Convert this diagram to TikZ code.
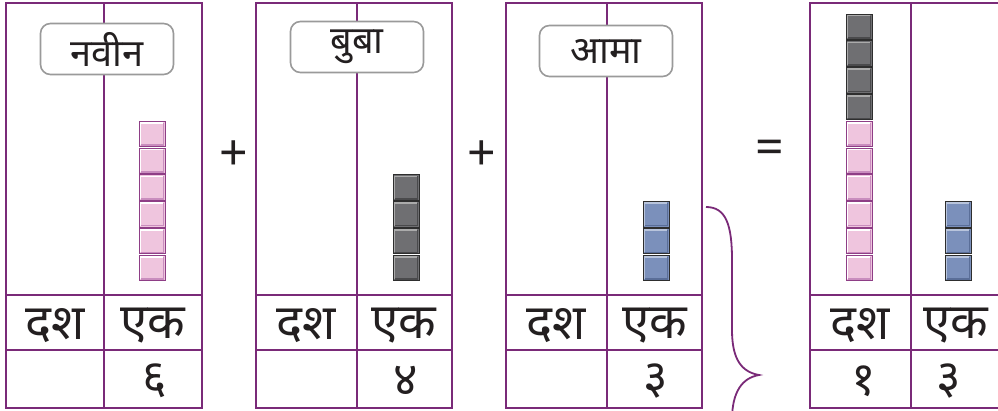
\documentclass[tikz,border=0pt]{standalone}
\usepackage{fontspec}
\setmainfont{Noto Sans}
\newfontfamily\dev{Noto Sans}[Script=Devanagari]
\definecolor{frame}{HTML}{7A2A78}
\definecolor{ink}{HTML}{231F20}
\definecolor{lblbd}{HTML}{9A9A9A}
\definecolor{pinkf}{HTML}{EFC5DE}
\definecolor{pinkd}{HTML}{8E3E86}
\definecolor{pinks}{HTML}{C98DBE}
\definecolor{grayf}{HTML}{6F6F72}
\definecolor{grayd}{HTML}{2E2E2E}
\definecolor{grayh}{HTML}{ABABAB}
\definecolor{grays}{HTML}{4A4A4C}
\definecolor{bluef}{HTML}{7B90BB}
\definecolor{blueh}{HTML}{B8C4DC}
\definecolor{blues}{HTML}{5A6E98}
\tikzset{
  gridline/.style={draw=frame, line width=2pt},
  lbl/.style={draw=lblbd, line width=1.6pt, fill=white, rounded corners=10pt,
    minimum width=133pt, minimum height=51pt, inner sep=0pt, text=ink,
    font=\dev\fontsize{38}{38}\selectfont},
  head/.style={text=ink, inner sep=0pt, font=\dev\fontsize{49}{49}\selectfont},
  digit/.style={text=ink, inner sep=0pt, font=\dev\fontsize{47}{47}\selectfont},
  sign/.style={text=ink, inner sep=0pt, font=\fontsize{50}{50}\selectfont},
  cubebase/.style n args={4}{draw=#2, fill=#1, line width=0.9pt,
    minimum width=26pt, minimum height=25.5pt, inner sep=0pt,
    path picture={
      \draw[#3, line width=1.6pt]
        ([xshift=1.6pt,yshift=1.6pt]path picture bounding box.south west)
        -- ([xshift=1.6pt,yshift=-1.6pt]path picture bounding box.north west)
        -- ([xshift=-1.6pt,yshift=-1.6pt]path picture bounding box.north east);
      \draw[#4, line width=1.6pt]
        ([xshift=1.6pt,yshift=1.6pt]path picture bounding box.south west)
        -- ([xshift=-1.6pt,yshift=1.6pt]path picture bounding box.south east)
        -- ([xshift=-1.6pt,yshift=-1.6pt]path picture bounding box.north east);
    }},
  pinkcube/.style={cubebase={pinkf}{pinkd}{white}{pinks}},
  graycube/.style={cubebase={grayf}{grayd}{grayh}{grays}},
  bluecube/.style={cubebase={bluef}{grayd}{blueh}{blues}},
  bracestyle/.style={draw=frame, line width=1.8pt},
}
\newcommand\placepanel[3]{%
  % #1 name, #2 left x, #3 middle x
  \node[draw=none, minimum width=196pt, minimum height=405pt, inner sep=0pt, anchor=north west]
    (#1) at (#2,3) {};
  \draw[gridline] (#1.north west) rectangle (#1.south east);
  \coordinate (#1m) at (#3,3);
  \draw[gridline] (#1m) -- (#1m |- #1.south);
  \draw[gridline] (#2,295) -- ++(196,0);
  \draw[gridline] (#2,350) -- ++(196,0);
}
\begin{document}
\begin{tikzpicture}[x=1pt,y=-1pt]
\useasboundingbox (0,0) rectangle (998,411);
\clip (0,0) rectangle (998,411);
\fill[white] (0,0) rectangle (998,411);

\placepanel{pa}{6}{104}
\placepanel{pb}{256}{357}
\placepanel{pc}{506}{607}
\placepanel{pd}{810}{911}

% labels
\node[lbl] (la) at (107,49) {नवीन};
\node[lbl] (lb) at (357,47) {बुबा};
\node[lbl] (lc) at (606,51) {आमा};

% headers
\node[head] (dasha) at (55,326) {दश};
\node[head] (eka) at (153,326) {एक};
\node[head] (dashb) at (306,326) {दश};
\node[head] (ekb) at (404,326) {एक};
\node[head] (dashc) at (556,326) {दश};
\node[head] (ekc) at (655,326) {एक};
\node[head] (dashd) at (860,326) {दश};
\node[head] (ekd) at (956,326) {एक};

% digits
\node[digit] (da) at (155,381) {६};
\node[digit] (db) at (406,381) {४};
\node[digit] (dc) at (656,381) {३};
\node[digit] (ddt) at (864,381) {१};
\node[digit] (ddo) at (949,381) {३};

% cubes
\foreach \k in {0,...,5}{ \node[pinkcube] (ca\k) at (152,268-26.8*\k) {}; }
\foreach \k in {0,...,3}{ \node[graycube] (cb\k) at (406,268-26.8*\k) {}; }
\foreach \k in {0,...,2}{ \node[bluecube] (cc\k) at (656,268-26.8*\k) {}; }
\foreach \k in {0,...,5}{ \node[pinkcube] (cdt\k) at (859,268-26.8*\k) {}; }
\foreach \k in {6,...,9}{ \node[graycube] (cdt\k) at (859,268-26.8*\k) {}; }
\foreach \k in {0,...,2}{ \node[bluecube] (cdo\k) at (958,268-26.8*\k) {}; }

% signs
\node[sign] (plus1) at (234,156) {+};
\node[sign] (plus2) at (482,156) {+};
\node[sign] (eq) at (770,152) {=};

% brace
\draw[bracestyle] (706,207) .. controls (726,207) and (732,225) .. (732,260)
  -- (732,330) .. controls (732,360) and (742,372) .. (759,375)
  .. controls (742,378) and (732,392) .. (732,420) -- (732,500);
\end{tikzpicture}
\end{document}
